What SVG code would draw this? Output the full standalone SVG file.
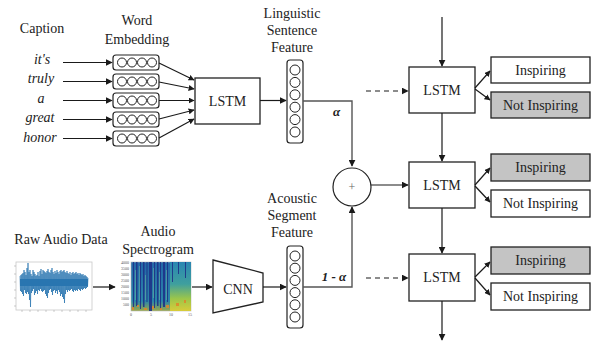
<svg xmlns="http://www.w3.org/2000/svg" width="594" height="343" viewBox="0 0 594 343">
<defs>
<marker id="ah" viewBox="0 0 10 10" refX="9" refY="5" markerWidth="7" markerHeight="7" markerUnits="userSpaceOnUse" orient="auto"><path d="M0,0 L10,5 L0,10 z" fill="#1a1a1a"/></marker>
<marker id="ahs" viewBox="0 0 10 10" refX="9" refY="5" markerWidth="6" markerHeight="6" markerUnits="userSpaceOnUse" orient="auto"><path d="M0,0 L10,5 L0,10 z" fill="#1a1a1a"/></marker>
<linearGradient id="spg" x1="0" y1="0" x2="0" y2="1">
<stop offset="0" stop-color="#2a86b2"/><stop offset="0.45" stop-color="#3f9f9e"/><stop offset="0.75" stop-color="#9cc64a"/><stop offset="1" stop-color="#d8cc3a"/>
</linearGradient>
<linearGradient id="spl" x1="0" y1="0" x2="0" y2="1">
<stop offset="0" stop-color="#2467a8"/><stop offset="0.8" stop-color="#2a86a8"/><stop offset="1" stop-color="#9aa848"/>
</linearGradient>
</defs>
<style>
text{font-family:"Times New Roman",Times,"Liberation Serif","Nimbus Roman","Noto Serif","DejaVu Serif",serif;fill:#222;}
.t{font-size:14px;text-anchor:middle;}
.w{font-size:14px;font-style:italic;text-anchor:middle;}
.box{fill:#fff;stroke:#222;stroke-width:1.3;}
.gbox{fill:#c4c4c4;stroke:#222;stroke-width:1.3;}
.vec{fill:#fff;stroke:#222;stroke-width:1.2;}
.c{fill:#fff;stroke:#222;stroke-width:1;}
.ln{fill:none;stroke:#1a1a1a;stroke-width:1.2;}
.gl{fill:none;stroke:#555;stroke-width:1.4;}
.ds{fill:none;stroke:#1a1a1a;stroke-width:1.2;stroke-dasharray:5,4;}
.tk{font-size:4px;fill:#555;}
</style>

<g id="caption">
<text class="t" x="42" y="33">Caption</text>
<text class="w" x="42" y="64">it's</text>
<text class="w" x="41" y="83">truly</text>
<text class="w" x="41" y="103">a</text>
<text class="w" x="40" y="122">great</text>
<text class="w" x="40" y="142">honor</text>
</g>

<g id="word-embedding">
<text class="t" x="137" y="25">Word</text>
<text class="t" x="137" y="44">Embedding</text>
<g id="emb1"><rect class="vec" x="113" y="55" width="46" height="15" rx="3"/><circle class="c" cx="122" cy="62.5" r="4.5"/><circle class="c" cx="132" cy="62.5" r="4.5"/><circle class="c" cx="142" cy="62.5" r="4.5"/><circle class="c" cx="152" cy="62.5" r="4.5"/></g>
<g id="emb2"><rect class="vec" x="113" y="74" width="46" height="15" rx="3"/><circle class="c" cx="122" cy="81.5" r="4.5"/><circle class="c" cx="132" cy="81.5" r="4.5"/><circle class="c" cx="142" cy="81.5" r="4.5"/><circle class="c" cx="152" cy="81.5" r="4.5"/></g>
<g id="emb3"><rect class="vec" x="113" y="93" width="46" height="15" rx="3"/><circle class="c" cx="122" cy="100.5" r="4.5"/><circle class="c" cx="132" cy="100.5" r="4.5"/><circle class="c" cx="142" cy="100.5" r="4.5"/><circle class="c" cx="152" cy="100.5" r="4.5"/></g>
<g id="emb4"><rect class="vec" x="113" y="112" width="46" height="15" rx="3"/><circle class="c" cx="122" cy="119.5" r="4.5"/><circle class="c" cx="132" cy="119.5" r="4.5"/><circle class="c" cx="142" cy="119.5" r="4.5"/><circle class="c" cx="152" cy="119.5" r="4.5"/></g>
<g id="emb5"><rect class="vec" x="113" y="131" width="46" height="15" rx="3"/><circle class="c" cx="122" cy="138.5" r="4.5"/><circle class="c" cx="132" cy="138.5" r="4.5"/><circle class="c" cx="142" cy="138.5" r="4.5"/><circle class="c" cx="152" cy="138.5" r="4.5"/></g>
</g>

<g id="lstm-text">
<rect class="box" x="195" y="78" width="65" height="46"/>
<text class="t" x="227.5" y="106">LSTM</text>
</g>

<g id="linguistic-feature">
<text class="t" x="292" y="18">Linguistic</text>
<text class="t" x="292" y="35">Sentence</text>
<text class="t" x="292" y="52">Feature</text>
<rect class="vec" x="287" y="60" width="16" height="83" rx="3"/>
<circle class="c" cx="295" cy="70" r="5"/><circle class="c" cx="295" cy="82.4" r="5"/><circle class="c" cx="295" cy="94.8" r="5"/><circle class="c" cx="295" cy="107.2" r="5"/><circle class="c" cx="295" cy="119.6" r="5"/><circle class="c" cx="295" cy="132" r="5"/>
</g>

<g id="raw-audio">
<text class="t" x="61" y="244">Raw Audio Data</text>
<rect x="16" y="262" width="76" height="48" fill="#fff" stroke="#c8c8c8" stroke-width="0.8"/>
<rect x="20" y="279" width="68" height="7" fill="#2a76b0"/>
<path fill="none" stroke="#2a76b0" stroke-width="0.7" d="M20,276 L20.5,291 L21,275 L21.5,292 L22,274 L22.5,294 L23,273 L23.5,296 L24,270 L24.5,290 L25,272 L25.5,293 L26,275 L26.5,294 L27,268 L27.5,292 L28,263 L28.5,294 L29,272 L29.5,300 L30,270 L30.5,307 L31,274 L31.5,293 L32,276 L32.5,291 L33,270 L33.5,289 L34,272 L34.5,295 L35,274 L35.5,293 L36,276 L36.5,291 L37,275 L37.5,294 L38,272 L38.5,290 L39,276 L39.5,291 L40,271 L40.5,289 L41,269 L41.5,291 L42,274 L42.5,292 L43,270 L43.5,291 L44,271 L44.5,290 L45,272 L45.5,294 L46,273 L46.5,296 L47,271 L47.5,298 L48,269 L48.5,293 L49,272 L49.5,290 L50,273 L50.5,289 L51,270 L51.5,292 L52,268 L52.5,295 L53,272 L53.5,291 L54,274 L54.5,290 L55,271 L55.5,293 L56,273 L56.5,291 L57,270 L57.5,294 L58,272 L58.5,290 L59,274 L59.5,292 L60,271 L60.5,296 L61,270 L61.5,294 L62,272 L62.5,297 L63,271 L63.5,299 L64,270 L64.5,303 L65,272 L65.5,294 L66,273 L66.5,290 L67,271 L67.5,292 L68,273 L68.5,290 L69,274 L69.5,291 L70,272 L70.5,290 L71,275 L71.5,289 L72,273 L72.5,291 L73,272 L73.5,292 L74,274 L74.5,290 L75,273 L75.5,291 L76,272 L76.5,290 L77,274 L77.5,291 L78,273 L78.5,289 L79,275 L79.5,290 L80,273 L80.5,291 L81,274 L81.5,289 L82,275 L82.5,290 L83,274 L83.5,289 L84,276 L84.5,288 L85,275 L85.5,289 L86,276 L86.5,288 L87,277 L87.5,287 L88,278"/>
<path fill="none" stroke="#999" stroke-width="0.5" d="M22,310v2 M30,310v2 M38,310v2 M46,310v2 M54,310v2 M62,310v2 M70,310v2 M78,310v2 M86,310v2 M16,266h-2 M16,274h-2 M16,282h-2 M16,290h-2 M16,298h-2 M16,306h-2"/>
</g>

<g id="spectrogram">
<text class="t" x="158" y="236">Audio</text>
<text class="t" x="158" y="254">Spectrogram</text>
<rect x="131" y="262" width="60" height="49" fill="url(#spl)" stroke="#bbb" stroke-width="0.6"/>
<rect x="170" y="262" width="21" height="49" fill="url(#spg)"/>
<g fill="#1d2f86" opacity="0.85">
<rect x="133" y="262" width="1" height="46"/><rect x="136" y="262" width="1.5" height="44"/><rect x="140" y="262" width="1" height="47"/><rect x="143" y="262" width="1.5" height="45"/><rect x="146.5" y="262" width="1" height="40"/><rect x="149" y="262" width="3" height="49"/><rect x="154" y="262" width="1" height="46"/><rect x="157" y="262" width="1.5" height="44"/><rect x="160" y="262" width="1" height="47"/><rect x="163" y="262" width="2" height="45"/><rect x="167" y="262" width="1" height="40"/><rect x="172" y="262" width="1" height="20"/><rect x="178" y="262" width="1" height="12"/><rect x="185" y="262" width="1" height="16"/>
</g>
<g fill="#6fb7a0" opacity="0.5">
<rect x="135" y="270" width="1" height="30"/><rect x="139" y="266" width="1" height="35"/><rect x="145" y="275" width="1" height="25"/><rect x="153" y="268" width="1" height="30"/><rect x="159" y="272" width="1" height="28"/><rect x="166" y="270" width="1" height="30"/>
</g>
<g fill="#e0862a" opacity="0.85">
<rect x="132" y="307" width="2" height="3"/><rect x="137" y="305" width="2" height="2"/><rect x="144" y="308" width="3" height="2"/><rect x="152" y="306" width="2" height="3"/><rect x="160" y="308" width="2" height="2"/><rect x="166" y="305" width="3" height="3"/><rect x="176" y="303" width="3" height="3"/><rect x="184" y="300" width="2" height="3"/>
</g>
<text class="tk" x="129" y="264" text-anchor="end">4000</text>
<text class="tk" x="129" y="270" text-anchor="end">3500</text>
<text class="tk" x="129" y="276" text-anchor="end">3000</text>
<text class="tk" x="129" y="282" text-anchor="end">2500</text>
<text class="tk" x="129" y="288" text-anchor="end">2000</text>
<text class="tk" x="129" y="294" text-anchor="end">1500</text>
<text class="tk" x="129" y="300" text-anchor="end">1000</text>
<text class="tk" x="129" y="306" text-anchor="end">500</text>
<text class="tk" x="131" y="316" text-anchor="middle">0</text>
<text class="tk" x="151" y="316" text-anchor="middle">5</text>
<text class="tk" x="171" y="316" text-anchor="middle">10</text>
<text class="tk" x="190" y="316" text-anchor="middle">15</text>
</g>

<g id="cnn">
<polygon class="box" points="213,260 263,273 263,302 213,313"/>
<text class="t" x="238" y="294">CNN</text>
</g>

<g id="acoustic-feature">
<text class="t" x="292" y="203">Acoustic</text>
<text class="t" x="292" y="220">Segment</text>
<text class="t" x="292" y="237">Feature</text>
<rect class="vec" x="287" y="246" width="16" height="82" rx="3"/>
<circle class="c" cx="295" cy="256" r="5"/><circle class="c" cx="295" cy="268.2" r="5"/><circle class="c" cx="295" cy="280.4" r="5"/><circle class="c" cx="295" cy="292.6" r="5"/><circle class="c" cx="295" cy="304.8" r="5"/><circle class="c" cx="295" cy="317" r="5"/>
</g>

<g id="sum">
<circle cx="352" cy="187" r="19" fill="#fff" stroke="#222" stroke-width="1.2"/>
<text x="352" y="191" text-anchor="middle" style="font-size:12px;fill:#666">+</text>
</g>

<g id="lstm1"><rect class="box" x="409" y="67" width="66" height="46"/><text class="t" x="442" y="95">LSTM</text></g>
<g id="lstm2"><rect class="box" x="409" y="162" width="66" height="46"/><text class="t" x="442" y="190">LSTM</text></g>
<g id="lstm3"><rect class="box" x="409" y="254" width="66" height="47"/><text class="t" x="442" y="282">LSTM</text></g>

<g id="out1a"><rect class="box" x="491" y="57" width="99" height="26"/><text class="t" x="540.5" y="75">Inspiring</text></g>
<g id="out1b"><rect class="gbox" x="491" y="92" width="99" height="26"/><text class="t" x="540.5" y="110">Not Inspiring</text></g>
<g id="out2a"><rect class="gbox" x="491" y="154" width="99" height="27"/><text class="t" x="540.5" y="172">Inspiring</text></g>
<g id="out2b"><rect class="box" x="491" y="190" width="99" height="27"/><text class="t" x="540.5" y="208">Not Inspiring</text></g>
<g id="out3a"><rect class="gbox" x="491" y="247" width="99" height="27"/><text class="t" x="540.5" y="265">Inspiring</text></g>
<g id="out3b"><rect class="box" x="491" y="283" width="99" height="27"/><text class="t" x="540.5" y="301">Not Inspiring</text></g>

<g id="connectors">
<line class="ln" x1="63" y1="62.5" x2="112" y2="62.5" marker-end="url(#ah)"/>
<line class="ln" x1="63" y1="81.5" x2="112" y2="81.5" marker-end="url(#ah)"/>
<line class="ln" x1="63" y1="100.5" x2="112" y2="100.5" marker-end="url(#ah)"/>
<line class="ln" x1="63" y1="119.5" x2="112" y2="119.5" marker-end="url(#ah)"/>
<line class="ln" x1="63" y1="138.5" x2="112" y2="138.5" marker-end="url(#ah)"/>
<line class="ln" x1="159" y1="63" x2="194" y2="80" marker-end="url(#ahs)"/>
<line class="ln" x1="159" y1="82" x2="194" y2="89" marker-end="url(#ahs)"/>
<line class="ln" x1="159" y1="100.5" x2="194" y2="100.5" marker-end="url(#ahs)"/>
<line class="ln" x1="159" y1="119" x2="194" y2="110" marker-end="url(#ahs)"/>
<line class="ln" x1="159" y1="138" x2="194" y2="119" marker-end="url(#ahs)"/>
<line class="ln" x1="260" y1="100.5" x2="286" y2="100.5" marker-end="url(#ah)"/>
<polyline class="gl" points="303,101 352,101 352,166" marker-end="url(#ah)"/>
<text x="333" y="116" style="font-size:13px;font-style:italic;font-weight:bold">α</text>
<line class="ln" x1="93" y1="287" x2="115" y2="287" marker-end="url(#ah)"/>
<line class="ln" x1="192" y1="287" x2="212" y2="287" marker-end="url(#ah)"/>
<line class="ln" x1="263" y1="287" x2="286" y2="287" marker-end="url(#ah)"/>
<polyline class="gl" points="303,287 352,287 352,207" marker-end="url(#ah)"/>
<text x="334" y="281" text-anchor="middle" style="font-size:13px;font-style:italic;font-weight:bold">1 - α</text>
<line class="ln" x1="371" y1="185" x2="408" y2="185" marker-end="url(#ah)"/>
<line class="ds" x1="366" y1="91" x2="408" y2="91" marker-end="url(#ah)"/>
<line class="ds" x1="366" y1="278" x2="408" y2="278" marker-end="url(#ah)"/>
<line class="ln" x1="442" y1="17" x2="442" y2="66" marker-end="url(#ah)"/>
<line class="ln" x1="442" y1="113" x2="442" y2="161" marker-end="url(#ah)"/>
<line class="ln" x1="442" y1="208" x2="442" y2="253" marker-end="url(#ah)"/>
<line class="ln" x1="442" y1="301" x2="442" y2="340" marker-end="url(#ah)"/>
<line class="ln" x1="475" y1="88" x2="490" y2="71" marker-end="url(#ahs)"/>
<line class="ln" x1="475" y1="89" x2="490" y2="100" marker-end="url(#ahs)"/>
<line class="ln" x1="475" y1="185" x2="490" y2="168" marker-end="url(#ahs)"/>
<line class="ln" x1="475" y1="186" x2="490" y2="202" marker-end="url(#ahs)"/>
<line class="ln" x1="475" y1="277" x2="490" y2="262" marker-end="url(#ahs)"/>
<line class="ln" x1="475" y1="278" x2="490" y2="295" marker-end="url(#ahs)"/>
</g>
</svg>
